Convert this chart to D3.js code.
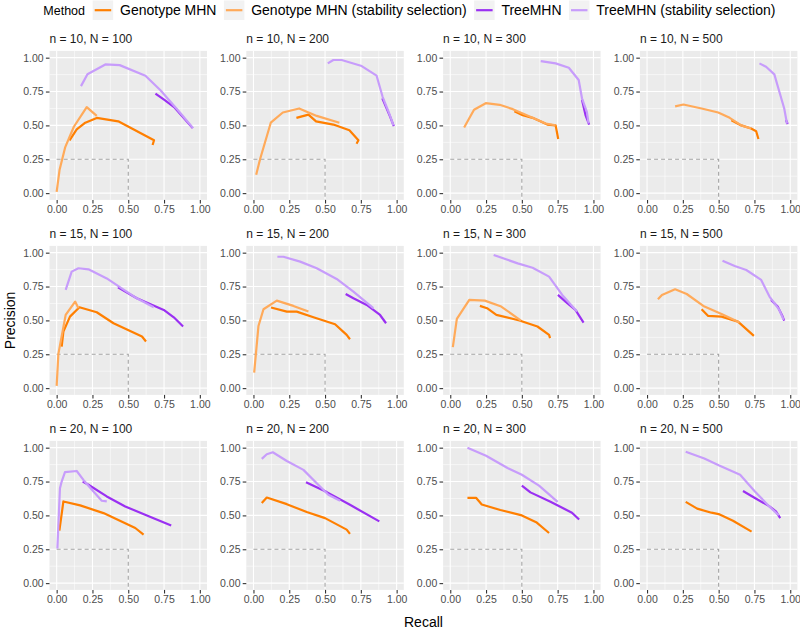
<!DOCTYPE html>
<html><head><meta charset="utf-8">
<script src="https://cdn.jsdelivr.net/npm/d3@7"></script>
<style>body{margin:0;background:#fff}svg{display:block}</style>
</head><body><svg id="c" width="800" height="634"></svg>
<script>
// ---------- data ----------
const methods = ["Genotype MHN", "Genotype MHN (stability selection)", "TreeMHN", "TreeMHN (stability selection)"];
const methodKeys = ["geno", "genoSS", "tree", "treeSS"];
const colors = ["#FF7F00", "#FFAA5A", "#9A30F2", "#C79CFB"];
const nValues = [10, 15, 20];
const NValues = [100, 200, 300, 500];
const ticks = [0, 0.25, 0.5, 0.75, 1];
const minorTicks = [0.125, 0.375, 0.625, 0.875];
const refPoint = [0.5, 0.25];

// curves: [recall, precision]
const p10_100 = {
  geno: [[0.09,0.39],[0.14,0.47],[0.2,0.52],[0.28,0.555],[0.43,0.53],[0.68,0.39],[0.67,0.355]],
  genoSS: [[0,0.01],[0.02,0.17],[0.06,0.34],[0.12,0.49],[0.21,0.635],[0.28,0.57]],
  tree: [[0.69,0.735],[0.75,0.69],[0.82,0.635],[0.95,0.48]],
  treeSS: [[0.17,0.79],[0.215,0.877],[0.34,0.95],[0.44,0.945],[0.62,0.867],[0.725,0.76],[0.865,0.59],[0.953,0.48]]
};
const p10_200 = {
  geno: [[0.3,0.556],[0.384,0.58],[0.437,0.53],[0.558,0.506],[0.67,0.464],[0.733,0.39],[0.72,0.365]],
  genoSS: [[0.019,0.136],[0.047,0.254],[0.121,0.52],[0.205,0.595],[0.319,0.625],[0.442,0.57],[0.6,0.52]],
  tree: [[0.9,0.70],[0.955,0.563],[0.98,0.494]],
  treeSS: [[0.519,0.958],[0.558,0.983],[0.616,0.983],[0.756,0.938],[0.86,0.867],[0.902,0.711],[0.953,0.575],[0.977,0.5]]
};
const p10_300 = {
  geno: [[0.448,0.605],[0.506,0.575],[0.575,0.556],[0.678,0.506],[0.736,0.5],[0.754,0.40]],
  genoSS: [[0.097,0.484],[0.126,0.54],[0.166,0.615],[0.248,0.664],[0.345,0.652],[0.437,0.62],[0.575,0.556],[0.667,0.514],[0.736,0.5]],
  tree: [[0.92,0.69],[0.945,0.575],[0.97,0.506]],
  treeSS: [[0.632,0.975],[0.736,0.958],[0.828,0.926],[0.897,0.835],[0.92,0.70],[0.954,0.6],[0.966,0.514]]
};
const p10_500 = {
  geno: [[0.589,0.538],[0.658,0.5],[0.727,0.477],[0.762,0.457],[0.778,0.40]],
  genoSS: [[0.196,0.64],[0.254,0.654],[0.381,0.625],[0.497,0.595],[0.577,0.556],[0.658,0.5],[0.727,0.477]],
  tree: [[0.97,0.54],[0.982,0.51]],
  treeSS: [[0.785,0.958],[0.831,0.933],[0.889,0.877],[0.924,0.748],[0.958,0.625],[0.977,0.514]]
};
const p15_100 = {
  geno: [[0.035,0.307],[0.047,0.418],[0.093,0.528],[0.159,0.597],[0.28,0.56],[0.397,0.479],[0.596,0.381],[0.624,0.344]],
  genoSS: [[0,0.017],[0.012,0.253],[0.063,0.541],[0.129,0.639],[0.152,0.59]],
  tree: [[0.428,0.744],[0.56,0.663],[0.748,0.577],[0.818,0.523],[0.883,0.455]],
  treeSS: [[0.063,0.725],[0.105,0.86],[0.152,0.885],[0.222,0.877],[0.35,0.81],[0.444,0.744],[0.56,0.663],[0.678,0.597]]
};
const p15_200 = {
  geno: [[0.123,0.595],[0.233,0.565],[0.302,0.565],[0.419,0.523],[0.57,0.472],[0.651,0.393],[0.674,0.361]],
  genoSS: [[0.005,0.115],[0.035,0.459],[0.07,0.582],[0.163,0.646],[0.279,0.607],[0.384,0.565]],
  tree: [[0.644,0.695],[0.698,0.663],[0.791,0.614],[0.884,0.54],[0.926,0.479]],
  treeSS: [[0.167,0.97],[0.209,0.97],[0.326,0.934],[0.442,0.885],[0.581,0.806],[0.698,0.713],[0.837,0.59]]
};
const p15_300 = {
  geno: [[0.207,0.607],[0.257,0.59],[0.322,0.541],[0.483,0.499],[0.609,0.455],[0.69,0.393],[0.697,0.369]],
  genoSS: [[0.018,0.302],[0.046,0.511],[0.133,0.651],[0.241,0.646],[0.356,0.602],[0.494,0.499]],
  tree: [[0.752,0.688],[0.805,0.639],[0.874,0.577],[0.931,0.484]],
  treeSS: [[0.303,0.983],[0.471,0.921],[0.575,0.889],[0.69,0.823],[0.782,0.688],[0.885,0.565]]
};
const p15_500 = {
  geno: [[0.381,0.582],[0.427,0.533],[0.52,0.528],[0.635,0.491],[0.746,0.386]],
  genoSS: [[0.076,0.656],[0.104,0.688],[0.196,0.73],[0.277,0.695],[0.393,0.607],[0.52,0.548],[0.647,0.484]],
  tree: [[0.866,0.651],[0.912,0.602],[0.947,0.528],[0.958,0.499]],
  treeSS: [[0.527,0.941],[0.612,0.902],[0.693,0.872],[0.797,0.799],[0.855,0.676],[0.924,0.577],[0.954,0.504]]
};
const p20_100 = {
  geno: [[0.019,0.387],[0.047,0.603],[0.164,0.574],[0.327,0.517],[0.549,0.407],[0.607,0.358]],
  genoSS: [],
  tree: [[0.182,0.75],[0.222,0.726],[0.35,0.64],[0.479,0.566],[0.643,0.493],[0.8,0.426]],
  treeSS: [[0.005,0.255],[0.023,0.701],[0.035,0.75],[0.058,0.819],[0.14,0.828],[0.187,0.762],[0.257,0.676],[0.315,0.608],[0.35,0.603]]
};
const p20_200 = {
  geno: [[0.058,0.591],[0.093,0.632],[0.233,0.583],[0.372,0.525],[0.5,0.48],[0.651,0.395],[0.674,0.363]],
  genoSS: [],
  tree: [[0.367,0.745],[0.512,0.672],[0.674,0.578],[0.879,0.456]],
  treeSS: [[0.058,0.917],[0.093,0.951],[0.135,0.966],[0.233,0.902],[0.349,0.836],[0.442,0.738],[0.523,0.652],[0.605,0.608]]
};
const p20_300 = {
  geno: [[0.12,0.63],[0.18,0.63],[0.22,0.58],[0.35,0.54],[0.5,0.5],[0.6,0.45],[0.69,0.37]],
  genoSS: [],
  tree: [[0.5,0.72],[0.56,0.67],[0.7,0.6],[0.85,0.52],[0.9,0.47]],
  treeSS: [[0.12,1.0],[0.25,0.94],[0.4,0.85],[0.5,0.8],[0.62,0.72],[0.75,0.6]]
};
const p20_500 = {
  geno: [[0.27,0.6],[0.35,0.55],[0.45,0.52],[0.5,0.51],[0.6,0.46],[0.73,0.38]],
  genoSS: [],
  tree: [[0.67,0.68],[0.75,0.63],[0.85,0.57],[0.9,0.53],[0.93,0.48]],
  treeSS: [[0.27,0.97],[0.4,0.92],[0.5,0.87],[0.65,0.8],[0.75,0.68],[0.85,0.57],[0.92,0.5]]
};
const panels = [
  [p10_100, p10_200, p10_300, p10_500],
  [p15_100, p15_200, p15_300, p15_500],
  [p20_100, p20_200, p20_300, p20_500]
];

// ---------- layout ----------
const FONT = "'Liberation Sans', Arial, Helvetica, sans-serif";
const colX0 = 49.5, colStep = 196.8, pw = 157.5;
const rowY0 = 50.9, rowStep = 195, ph = 149;

const svg = d3.select("#c").style("font-family", FONT);
svg.append("rect").attr("width", 800).attr("height", 634).attr("fill", "#fff");

const x = d3.scaleLinear().domain([-0.05, 1.05]).range([0, pw]);
const y = d3.scaleLinear().domain([-0.05, 1.05]).range([ph, 0]);
const line = d3.line().x(d => x(d[0])).y(d => y(d[1]));
const fmt = d3.format(".2f");

panels.forEach((row, ri) => {
  row.forEach((pd, ci) => {
    const g = svg.append("g").attr("transform", `translate(${colX0 + ci * colStep},${rowY0 + ri * rowStep})`);
    g.append("rect").attr("width", pw).attr("height", ph).attr("fill", "#EBEBEB");
    minorTicks.forEach(t => {
      g.append("line").attr("x1", x(t)).attr("x2", x(t)).attr("y1", 0).attr("y2", ph).attr("stroke", "#fff").attr("stroke-width", 0.55);
      g.append("line").attr("y1", y(t)).attr("y2", y(t)).attr("x1", 0).attr("x2", pw).attr("stroke", "#fff").attr("stroke-width", 0.55);
    });
    ticks.forEach(t => {
      g.append("line").attr("x1", x(t)).attr("x2", x(t)).attr("y1", 0).attr("y2", ph).attr("stroke", "#fff").attr("stroke-width", 1.1);
      g.append("line").attr("y1", y(t)).attr("y2", y(t)).attr("x1", 0).attr("x2", pw).attr("stroke", "#fff").attr("stroke-width", 1.1);
    });
    g.append("path")
      .attr("d", `M${x(0)},${y(refPoint[1])}L${x(refPoint[0])},${y(refPoint[1])}L${x(refPoint[0])},${ph}`)
      .attr("fill", "none").attr("stroke", "#A3A3A3").attr("stroke-width", 1.1).attr("stroke-dasharray", "4,3");
    methodKeys.forEach((k, mi) => {
      if (!pd[k] || pd[k].length < 2) return;
      g.append("path").attr("d", line(pd[k])).attr("fill", "none")
        .attr("stroke", colors[mi]).attr("stroke-width", 2.2)
        .attr("stroke-linejoin", "round").attr("stroke-linecap", "butt");
    });
    const ax = g.append("g").attr("transform", `translate(0,${ph})`)
      .call(d3.axisBottom(x).tickValues(ticks).tickFormat(fmt).tickSize(3.6).tickPadding(2));
    const ay = g.append("g")
      .call(d3.axisLeft(y).tickValues(ticks).tickFormat(fmt).tickSize(3.6).tickPadding(2.2));
    [ax, ay].forEach(a => {
      a.select(".domain").remove();
      a.selectAll(".tick line").attr("stroke", "#333").attr("stroke-width", 1.1);
      a.selectAll(".tick text").attr("fill", "#4D4D4D").style("font-size", "10.5px").style("font-family", FONT);
    });
    g.append("text").attr("x", 0).attr("y", -8.4).attr("fill", "#1A1A1A")
      .style("font-size", "12px").text(`n = ${nValues[ri]}, N = ${NValues[ci]}`);
  });
});

svg.append("text").attr("x", colX0 + (3 * colStep + pw) / 2).attr("y", 626.5)
  .attr("text-anchor", "middle").style("font-size", "14px").attr("fill", "#000").text("Recall");
svg.append("text").attr("transform", `translate(15,${rowY0 + (2 * rowStep + ph) / 2}) rotate(-90)`)
  .attr("text-anchor", "middle").style("font-size", "14px").attr("fill", "#000").text("Precision");

const leg = svg.append("g");
leg.append("text").attr("x", 43.3).attr("y", 15).style("font-size", "12.5px").attr("fill", "#000").text("Method");
let kx = 92.7;
methods.forEach((m, i) => {
  leg.append("rect").attr("x", kx).attr("y", 0.5).attr("width", 20.5).attr("height", 19.5).attr("fill", "#F2F2F2");
  leg.append("line").attr("x1", kx + 2).attr("x2", kx + 18.5).attr("y1", 10.2).attr("y2", 10.2)
    .attr("stroke", colors[i]).attr("stroke-width", 2.2);
  const t = leg.append("text").attr("x", kx + 27.3).attr("y", 15.2).style("font-size", "14px").attr("fill", "#000").text(m);
  kx = kx + 27.3 + t.node().getComputedTextLength() + 7.4;
});
</script></body></html>
